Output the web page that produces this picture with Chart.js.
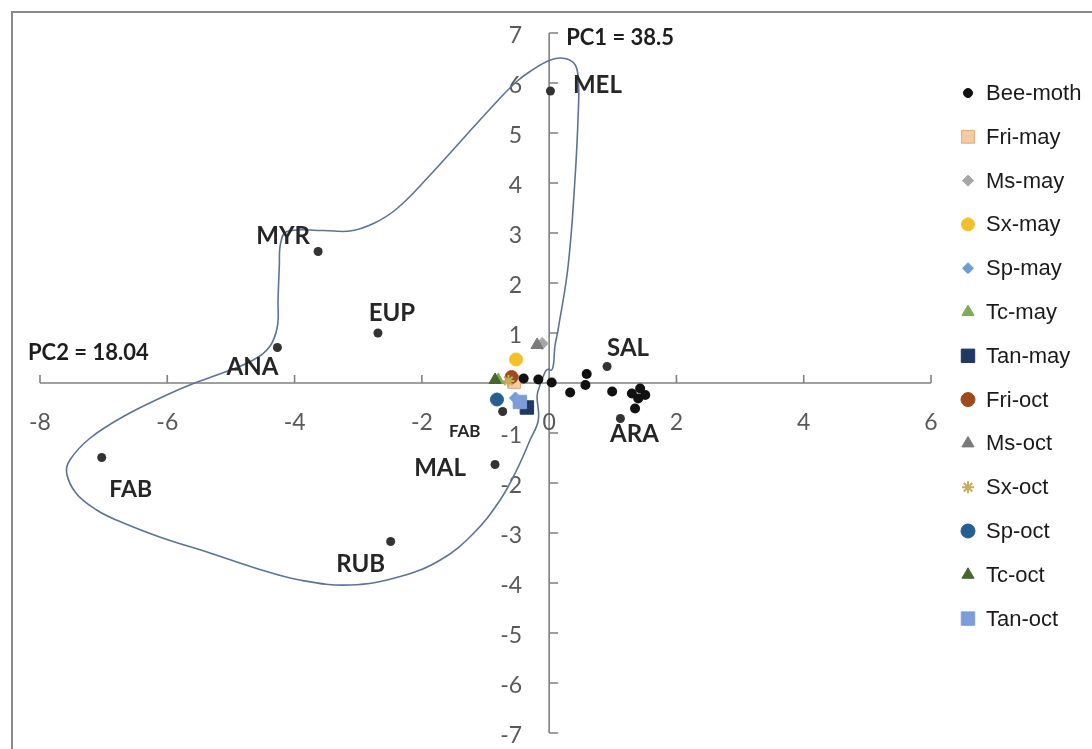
<!DOCTYPE html>
<html>
<head>
<meta charset="utf-8">
<script src="https://cdn.jsdelivr.net/npm/chart.js@4.4.1/dist/chart.umd.min.js"></script>
<style>
  html, body { margin: 0; padding: 0; background: #ffffff; }
  #wrap { width: 1092px; height: 749px; position: relative; }
</style>
</head>
<body>
<div id="wrap"><canvas id="pca" width="1092" height="749"></canvas></div>
<script>
// ---- axis ticks ----
const xTicks = [-8, -6, -4, -2, 0, 2, 4, 6];
const yTicks = [-7, -6, -5, -4, -3, -2, -1, 0, 1, 2, 3, 4, 5, 6, 7];
const axisTitles = ['PC1 = 38.5', 'PC2 = 18.04'];

// ---- plant families (labelled points) ----
const familyNames = ['MEL', 'MYR', 'EUP', 'ANA', 'FAB', 'RUB', 'MAL', 'FAB', 'SAL', 'ARA'];
const familyX = [0.02, -3.63, -2.69, -4.27, -7.03, -2.49, -0.85, -0.73, 0.91, 1.12];
const familyY = [5.84, 2.63, 1.00, 0.71, -1.49, -3.17, -1.63, -0.57, 0.33, -0.71];

// ---- bee-moth samples ----
const beeMothX = [-0.40, -0.17, 0.04, 0.33, 0.59, 0.57, 0.99, 1.30, 1.43, 1.51, 1.40, 1.35];
const beeMothY = [0.09, 0.07, 0.01, -0.19, 0.18, -0.04, -0.17, -0.21, -0.11, -0.24, -0.31, -0.51];

// ---- hive samples (one point each) ----
const sampleNames = ['Fri-may', 'Ms-may', 'Sx-may', 'Sp-may', 'Tc-may', 'Tan-may',
                     'Fri-oct', 'Ms-oct', 'Sx-oct', 'Sp-oct', 'Tc-oct', 'Tan-oct'];
const sampleX = [-0.55, -0.11, -0.52, -0.53, -0.80, -0.35, -0.59, -0.19, -0.64, -0.82, -0.85, -0.46];
const sampleY = [0.02, 0.79, 0.47, -0.30, 0.06, -0.49, 0.12, 0.76, 0.04, -0.33, 0.06, -0.38];

// ---- outline around the pollen-family group ----
const hullX = [-0.02, 0.04, 0.07, 0.09, 0.14, 0.30, 0.41, 0.46, 0.46, 0.41, 0.25, 0.02, -0.30, -0.51,
               -0.82, -1.35, -1.87, -2.39, -2.76, -3.13, -3.55, -4.12, -4.22, -4.24, -4.26, -4.27,
               -4.39, -4.65, -5.07, -5.59, -6.01, -6.69, -7.22, -7.53, -7.58, -7.43, -7.11, -6.80,
               -6.12, -5.33, -4.62, -3.92, -3.13, -2.34, -1.71, -1.19, -0.77, -0.51, -0.30, -0.17,
               -0.19, -0.17, -0.06, -0.02];
const hullY = [0.28, 0.26, 0.39, 0.73, 1.06, 2.36, 4.16, 5.49, 6.03, 6.36, 6.49, 6.46, 6.23, 6.03,
               5.63, 4.89, 4.16, 3.49, 3.19, 3.04, 3.05, 3.03, 2.79, 2.33, 1.66, 1.13,
               0.73, 0.46, 0.23, -0.01, -0.24, -0.67, -1.11, -1.54, -1.81, -2.21, -2.54, -2.74,
               -3.08, -3.40, -3.70, -3.94, -4.04, -3.87, -3.54, -3.01, -2.34, -1.74, -1.14, -0.74,
               -0.27, -0.14, 0.23, 0.28];

// ---- marker styles per series (legend order) ----
const legendNames = ['Bee-moth'].concat(sampleNames);
const markerStyle = ['circle', 'rect', 'rectRot', 'circle', 'rectRot', 'triangle', 'rect',
                     'circle', 'triangle', 'star', 'circle', 'triangle', 'rect'];
const markerFill = ['#111111', '#f6caa2', '#a6a6a6', '#f2c029', '#6b9fd3', '#7aad56', '#203864',
                    '#9c4c1c', '#7a7a7a', '#c7ad5c', '#255e91', '#44682c', '#7e9cd7'];
const markerBorder = ['#111111', '#e5a777', '#a6a6a6', '#f2c029', '#6b9fd3', '#7aad56', '#203864',
                      '#9c4c1c', '#7a7a7a', '#c7ad5c', '#255e91', '#44682c', '#7e9cd7'];
const markerRadius = [5, 9, 6, 6.5, 6, 7, 9.5, 6.5, 7, 6, 6.5, 7, 9.5];
const legendRadius = [4.5, 9, 5.5, 6.5, 5.5, 7, 9.5, 7, 7, 6, 7, 7, 9.5];

// label offsets from each family point (px)
const labelDx = [47, -35, 14, -25, 29, -30, -55, -38, 21, 14];
const labelDy = [-6, -15, -20, 20, 32, 23, 4, 20, -18, 16];
const labelSize = [24, 24, 24, 24, 23, 24, 24, 17, 24, 24];

const toPoints = (xs, ys) => xs.map((x, i) => ({ x: x, y: ys[i] }));

const datasets = [];
datasets.push({
  label: 'outline', data: toPoints(hullX, hullY), showLine: true, fill: false,
  borderColor: '#5c7393', borderWidth: 1.6, tension: 0.4, pointRadius: 0, order: 100
});
datasets.push({
  label: 'families', data: toPoints(familyX, familyY), pointStyle: 'circle',
  pointRadius: 4.5, backgroundColor: '#333333', borderColor: '#333333', borderWidth: 0, order: 50
});
datasets.push({
  label: legendNames[0], data: toPoints(beeMothX, beeMothY), pointStyle: markerStyle[0],
  pointRadius: markerRadius[0], backgroundColor: markerFill[0], borderColor: markerBorder[0],
  borderWidth: 0, order: 1
});
sampleNames.forEach((name, i) => {
  const k = i + 1;
  datasets.push({
    label: name, data: [{ x: sampleX[i], y: sampleY[i] }], pointStyle: markerStyle[k],
    pointRadius: markerRadius[k], backgroundColor: markerFill[k], borderColor: markerBorder[k],
    borderWidth: markerStyle[k] === 'star' ? 2 : 1, order: 20 - i
  });
});

const frameAndAxes = {
  id: 'frameAndAxes',
  beforeDraw(chart) {
    const ctx = chart.ctx;
    ctx.save();
    ctx.fillStyle = '#ffffff';
    ctx.fillRect(0, 0, chart.width, chart.height);
    ctx.strokeStyle = '#8a8a8a';
    ctx.lineWidth = 2;
    ctx.strokeRect(12, 12, chart.width + 40, chart.height + 40);
    ctx.restore();
  },
  beforeDatasetsDraw(chart) {
    const ctx = chart.ctx;
    const xs = chart.scales.x, ys = chart.scales.y;
    const x0 = xs.getPixelForValue(0), y0 = ys.getPixelForValue(0);
    ctx.save();
    ctx.strokeStyle = '#808080';
    ctx.lineWidth = 1.6;
    ctx.beginPath();
    ctx.moveTo(xs.getPixelForValue(xs.min), y0);
    ctx.lineTo(xs.getPixelForValue(xs.max), y0);
    ctx.moveTo(x0, ys.getPixelForValue(ys.max));
    ctx.lineTo(x0, ys.getPixelForValue(ys.min));
    // tick marks: up from the horizontal axis, right from the vertical axis
    xs.ticks.forEach(t => {
      const px = xs.getPixelForValue(t.value);
      ctx.moveTo(px, y0); ctx.lineTo(px, y0 - 8);
    });
    ys.ticks.forEach(t => {
      const py = ys.getPixelForValue(t.value);
      ctx.moveTo(x0, py); ctx.lineTo(x0 + 9, py);
    });
    ctx.stroke();

    ctx.fillStyle = '#595959';
    ctx.font = '23px Lato, "Open Sans", sans-serif';
    ctx.textAlign = 'center';
    ctx.textBaseline = 'middle';
    xs.ticks.forEach(t => {
      ctx.fillText(String(t.value), xs.getPixelForValue(t.value), y0 + 40);
    });
    ctx.textAlign = 'right';
    ys.ticks.forEach(t => {
      if (t.value === 0) return;
      ctx.fillText(String(t.value), x0 - 27, ys.getPixelForValue(t.value) + 3);
    });

    ctx.fillStyle = '#1e1e1e';
    ctx.font = 'bold 22px Lato, "Open Sans", sans-serif';
    ctx.textAlign = 'left';
    ctx.fillText(axisTitles[0], x0 + 17, ys.getPixelForValue(ys.max) + 5);
    ctx.fillText(axisTitles[1], 28, y0 - 30);
    ctx.restore();
  },
  afterDatasetsDraw(chart) {
    const ctx = chart.ctx;
    const xs = chart.scales.x, ys = chart.scales.y;
    ctx.save();
    ctx.fillStyle = '#262626';
    ctx.textAlign = 'center';
    ctx.textBaseline = 'middle';
    familyNames.forEach((name, i) => {
      ctx.font = 'bold ' + labelSize[i] + 'px Lato, "Open Sans", sans-serif';
      ctx.fillText(name, xs.getPixelForValue(familyX[i]) + labelDx[i],
                   ys.getPixelForValue(familyY[i]) + labelDy[i]);
    });

    // legend
    const lx = 968, tx = 986, top = 93, step = 43.8;
    const drawPoint = Chart.helpers && Chart.helpers.drawPoint;
    ctx.font = '22px "Liberation Sans", Arial, sans-serif';
    ctx.textAlign = 'left';
    legendNames.forEach((name, i) => {
      const y = top + i * step;
      ctx.fillStyle = markerFill[i];
      ctx.strokeStyle = markerBorder[i];
      ctx.lineWidth = markerStyle[i] === 'star' ? 2 : 1;
      if (drawPoint) {
        drawPoint(ctx, { pointStyle: markerStyle[i], radius: legendRadius[i], rotation: 0,
                         borderWidth: ctx.lineWidth }, lx, y);
      } else {
        ctx.beginPath(); ctx.arc(lx, y, legendRadius[i], 0, Math.PI * 2); ctx.fill();
      }
      ctx.fillStyle = '#1a1a1a';
      ctx.fillText(name, tx, y + 1);
    });
    ctx.restore();
  }
};

new Chart(document.getElementById('pca'), {
  type: 'scatter',
  data: { datasets: datasets },
  options: {
    responsive: false,
    animation: false,
    layout: { padding: { left: 40, top: 33, right: 161, bottom: 16 } },
    scales: {
      x: { type: 'linear', min: -8, max: 6, display: false,
           afterBuildTicks: s => { s.ticks = xTicks.map(v => ({ value: v })); } },
      y: { type: 'linear', min: -7, max: 7, display: false,
           afterBuildTicks: s => { s.ticks = yTicks.map(v => ({ value: v })); } }
    },
    plugins: { legend: { display: false }, tooltip: { enabled: false } }
  },
  plugins: [frameAndAxes]
});
</script>
</body>
</html>
